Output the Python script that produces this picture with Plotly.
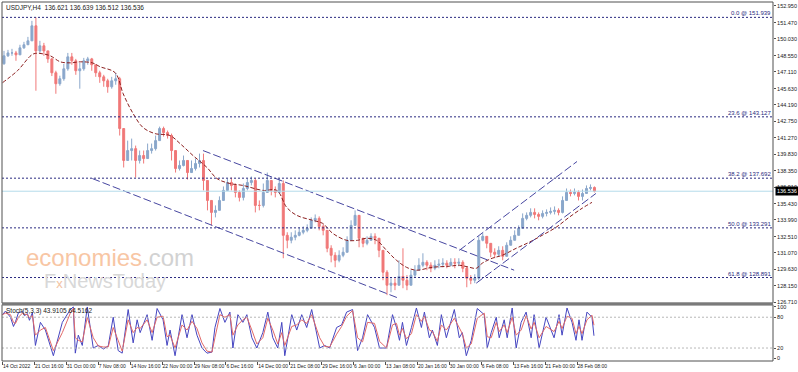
import plotly.graph_objects as go

# ---------------- data (USDJPY H4, sampled every 4 bars) ----------------
first_open = 147.83
closes = [
    148.53, 148.79, 148.79, 148.62, 149.24, 149.51, 149.86, 151.19, 148.97, 149.42,
    148.97, 148.26, 147.03, 146.06, 146.50, 147.38, 148.44, 148.09, 147.21, 147.38,
    148.09, 148.26, 147.74, 147.03, 146.67, 146.32, 145.79, 146.32, 146.50, 142.09,
    139.26, 140.14, 140.31, 139.26, 139.70, 139.43, 140.14, 140.31, 141.02, 142.09,
    141.73, 141.47, 140.14, 138.55, 138.82, 139.26, 138.19, 138.55, 138.99, 139.26,
    137.49, 135.72, 134.66, 134.84, 135.72, 136.61, 137.31, 137.05, 136.43, 135.99,
    136.78, 137.31, 137.49, 135.28, 135.28, 136.43, 137.49, 136.61, 136.43, 137.22,
    132.63, 132.19, 132.46, 132.63, 132.90, 133.07, 133.25, 133.96, 134.13, 133.42,
    133.07, 131.48, 130.86, 130.42, 130.86, 131.13, 132.19, 133.51, 134.40, 132.37,
    131.92, 132.19, 132.54, 132.37, 131.30, 129.36, 128.21, 128.39, 128.21, 128.99,
    128.65, 128.21, 129.10, 129.54, 129.98, 130.24, 129.98, 129.71, 129.98, 130.07,
    130.16, 129.98, 130.24, 130.16, 130.24, 129.71, 128.83, 128.65, 128.83, 132.19,
    132.54, 131.92, 131.13, 130.95, 131.30, 130.77, 131.75, 132.19, 132.63, 133.25,
    134.13, 134.40, 134.66, 134.48, 134.31, 134.57, 134.66, 134.75, 134.84, 134.66,
    135.72, 136.43, 136.34, 136.43, 136.08, 136.34, 136.78, 136.87, 136.536,
]
highs = [
    148.97, 149.06, 149.15, 148.97, 149.51, 149.77, 150.21, 151.63, 151.94, 149.86,
    149.68, 148.97, 148.35, 147.21, 146.77, 147.82, 148.79, 148.79, 148.26, 147.91,
    148.35, 148.44, 148.35, 147.74, 147.21, 146.85, 146.50, 146.67, 147.03, 146.67,
    141.91, 141.02, 141.20, 140.58, 140.14, 140.14, 140.76, 140.76, 141.47, 142.26,
    142.26, 141.91, 141.64, 139.70, 139.26, 139.70, 139.08, 139.26, 139.43, 139.87,
    139.87, 137.49, 135.72, 135.28, 136.08, 136.96, 137.66, 137.75, 137.22, 136.61,
    137.22, 137.66, 137.84, 137.66, 135.72, 137.22, 138.19, 137.49, 136.96, 137.66,
    137.49, 132.90, 132.90, 133.07, 133.34, 133.42, 133.60, 134.22, 134.48, 134.31,
    133.60, 133.07, 131.75, 131.13, 131.30, 131.57, 132.54, 133.96, 134.84, 134.40,
    132.37, 132.54, 132.81, 132.81, 132.19, 131.13, 129.54, 128.83, 128.83, 130.42,
    131.48, 129.10, 129.54, 129.98, 130.60, 131.04, 130.42, 130.24, 130.42, 130.51,
    130.60, 130.42, 130.60, 130.60, 130.60, 130.42, 129.89, 129.10, 129.18, 132.54,
    132.81, 132.54, 131.92, 131.48, 131.66, 131.66, 132.01, 132.54, 133.07, 133.51,
    134.57, 134.66, 135.02, 135.02, 134.66, 134.84, 134.93, 135.10, 135.19, 135.02,
    136.08, 136.78, 136.69, 136.78, 136.61, 136.69, 137.05, 137.14, 136.96,
]
lows = [
    147.74, 148.44, 148.53, 148.09, 148.97, 149.15, 149.60, 150.30, 145.44, 148.79,
    148.53, 147.91, 146.74, 145.17, 145.88, 146.32, 147.21, 147.74, 146.85, 145.62,
    147.21, 147.74, 147.21, 146.67, 146.14, 145.79, 145.26, 145.62, 145.97, 141.47,
    138.64, 139.26, 139.26, 137.75, 138.99, 138.99, 139.70, 139.87, 140.14, 141.02,
    141.38, 141.20, 139.26, 138.19, 138.37, 138.73, 137.57, 138.19, 138.37, 138.64,
    136.61, 134.84, 133.51, 134.22, 134.84, 135.72, 136.61, 136.61, 135.99, 135.63,
    135.72, 136.61, 137.05, 134.66, 134.84, 135.10, 136.61, 136.17, 135.99, 136.61,
    130.60, 131.48, 131.92, 132.19, 132.54, 132.72, 132.90, 133.42, 133.78, 133.07,
    132.63, 131.13, 130.24, 129.80, 130.24, 130.69, 131.30, 132.19, 133.78, 131.57,
    131.57, 131.75, 132.19, 131.84, 130.69, 128.65, 127.33, 127.59, 127.77, 128.39,
    127.94, 127.77, 128.48, 128.92, 129.71, 129.80, 129.54, 129.36, 129.54, 129.71,
    129.80, 129.71, 129.89, 129.71, 129.89, 129.36, 128.03, 128.30, 128.39, 128.65,
    132.10, 131.48, 130.69, 130.60, 130.77, 130.42, 131.30, 131.75, 132.19, 132.72,
    133.25, 133.96, 134.22, 134.13, 133.96, 134.13, 134.31, 134.48, 134.48, 134.40,
    134.57, 135.90, 136.08, 136.17, 135.72, 135.72, 136.43, 136.61, 136.43,
]
bars_per_candle = 4

# moving average
ma_bars = [0, 15, 31, 41, 48, 58, 68, 78, 90, 98, 113, 121, 131, 141, 153, 168, 178, 191, 205, 215,
           228, 241, 261, 275, 285, 295, 311, 321, 331, 345, 356, 365, 375, 385, 395, 405, 415, 431, 448, 458,
           468, 475, 481, 491, 501, 515, 528, 541, 555, 568, 581, 591]
ma_vals = [146.15, 147.21, 148.70, 148.70, 148.53, 148.00, 147.91, 148.00, 147.91, 147.56,
           147.03, 145.17, 143.41, 142.17, 141.64, 141.47, 140.76, 139.70, 138.64, 137.66,
           137.22, 137.05, 136.61, 136.61, 135.10, 134.40, 133.96, 133.69, 132.81, 132.19,
           132.19, 132.37, 132.19, 131.30, 130.42, 129.80, 129.54, 129.80, 129.89, 129.98,
           129.80, 129.71, 130.16, 130.60, 130.86, 131.48, 132.01, 132.63, 133.34, 134.22,
           135.02, 135.55]

# trend channels: (bar, price) endpoints
channels = {
    "desc_upper": ([201, 513], [140.14, 129.54]),
    "desc_lower": ([90, 398], [137.66, 127.03]),
    "asc_upper": ([458, 576], [131.30, 139.17]),
    "asc_lower": ([475, 595], [128.39, 136.34]),
}

fib_pcts = ["0.0", "23.6", "38.2", "50.0", "61.8"]
fib_levels = [151.939, 143.127, 137.692, 133.291, 128.891]
last_price = 136.536
ohlc_title = "USDJPY,H4  136.621 136.639 136.512 136.536"

price_ticks = [152.950, 151.470, 150.030, 148.550, 147.110, 145.630, 144.190, 142.750, 141.270,
               139.830, 138.350, 136.910, 135.430, 133.990, 132.510, 131.070, 129.630, 128.150, 126.710]

time_labels = ["14 Oct 2022", "21 Oct 16:00", "31 Oct 00:00", "7 Nov 08:00", "14 Nov 16:00",
               "22 Nov 00:00", "29 Nov 08:00", "6 Dec 16:00", "14 Dec 00:00", "21 Dec 08:00",
               "29 Dec 16:00", "6 Jan 00:00", "13 Jan 08:00", "20 Jan 16:00", "30 Jan 00:00",
               "6 Feb 08:00", "13 Feb 16:00", "21 Feb 00:00", "28 Feb 08:00"]
time_label_bars = [0, 32, 64, 96, 128, 160, 192, 224, 256, 288, 320, 352, 384, 416, 448, 480, 512, 544, 576]

# stochastic (5,3,3) turning points
stoch_bars = [0, 3, 8, 11, 13, 16, 20, 22, 25, 27, 30, 33, 38, 43, 51, 60, 68, 71, 73, 76,
              80, 85, 91, 96, 101, 106, 111, 116, 120, 126, 131, 135, 138, 145, 150, 155, 161, 165, 168, 173,
              180, 185, 190, 195, 200, 205, 210, 213, 218, 223, 228, 231, 236, 241, 245, 250, 255, 261, 266, 271,
              276, 280, 283, 290, 295, 300, 305, 310, 318, 323, 328, 335, 340, 345, 351, 356, 361, 366, 373, 378,
              385, 391, 395, 398, 401, 405, 410, 415, 420, 423, 428, 431, 436, 440, 445, 453, 458, 461, 465, 470,
              476, 483, 486, 490, 495, 498, 503, 506, 511, 515, 520, 525, 530, 533, 538, 545, 553, 558, 561, 566,
              571, 575, 578, 581, 586, 591, 593]
stoch_k = [85, 92, 80, 62, 71, 89, 91, 83, 87, 74, 89, 25, 70, 55, 5, 70, 95, 100, 10, 45,
           25, 100, 20, 25, 18, 24, 80, 15, 10, 95, 30, 75, 50, 85, 35, 97, 75, 25, 55, 5,
           85, 40, 85, 45, 20, 10, 12, 60, 97, 70, 90, 20, 85, 70, 85, 40, 20, 50, 90, 40,
           20, 70, 5, 85, 55, 85, 60, 95, 20, 25, 20, 60, 65, 90, 95, 15, 40, 85, 60, 20,
           20, 85, 60, 35, 70, 25, 60, 98, 60, 90, 40, 55, 25, 85, 40, 95, 40, 50, 5, 35,
           97, 85, 20, 50, 80, 40, 75, 40, 98, 20, 70, 90, 40, 85, 20, 80, 40, 85, 45, 98,
           70, 35, 75, 35, 90, 80, 43.91]
stoch_d = [85, 88, 85, 70, 68, 80, 88, 86, 85, 79, 83, 45, 55, 60, 15, 50, 88, 97, 40, 35,
           32, 80, 40, 24, 22, 22, 60, 35, 14, 75, 50, 60, 58, 75, 50, 80, 82, 42, 45, 20,
           65, 55, 72, 58, 30, 14, 12, 40, 85, 80, 85, 45, 65, 75, 80, 55, 28, 40, 78, 55,
           28, 50, 25, 62, 65, 75, 68, 85, 40, 23, 22, 47, 62, 82, 93, 40, 32, 70, 68, 33,
           20, 65, 68, 45, 58, 38, 48, 85, 72, 82, 55, 52, 33, 65, 55, 78, 58, 48, 20, 28,
           78, 88, 42, 40, 70, 52, 65, 50, 80, 45, 55, 83, 57, 70, 40, 62, 52, 72, 58, 82,
           78, 48, 62, 48, 75, 84, 64.52]
stoch_title = "Stoch(5,3,3) 43.9105 64.5162"

# ---------------- styling ----------------
W, H = 798, 372
ML, MR, MT, MB = 2, 23, 1, 11
PH = H - MT - MB                      # plot height in px
main_bottom = (361 - 303) / PH
stoch_top = (361 - 304.5) / PH
UP, DN = "#8aa7cb", "#f07878"
FONT = "Liberation Sans Narrow, Liberation Sans, Arial, sans-serif"
AX_COL = "#505050"
TXT = "#202020"

n = len(closes)
candle_x = [bars_per_candle * k + 1.5 for k in range(n)]
opens = [first_open] + closes[:-1]
hi = [max(h, o, c) for h, o, c in zip(highs, opens, closes)]
lo = [min(l, o, c) for l, o, c in zip(lows, opens, closes)]

fig = go.Figure()

fig.add_trace(go.Candlestick(
    x=candle_x, open=opens, high=hi, low=lo, close=closes,
    increasing=dict(line=dict(color=UP, width=1), fillcolor=UP),
    decreasing=dict(line=dict(color=DN, width=1), fillcolor=DN),
    whiskerwidth=0, xaxis="x", yaxis="y", showlegend=False, hoverinfo="skip"))

fig.add_trace(go.Scatter(x=ma_bars, y=ma_vals, mode="lines",
                         line=dict(color="#8b1f1f", width=1, dash="4px,2px", shape="spline"),
                         xaxis="x", yaxis="y", showlegend=False, hoverinfo="skip"))

for name, (bx, py) in channels.items():
    fig.add_trace(go.Scatter(x=bx, y=py, mode="lines", line=dict(color="#4646a0", width=1, dash="8px,3px"),
                             xaxis="x", yaxis="y", showlegend=False, hoverinfo="skip"))

fig.add_trace(go.Scatter(x=stoch_bars, y=stoch_k, mode="lines", line=dict(color="#4545c0", width=1),
                         xaxis="x2", yaxis="y2", showlegend=False, hoverinfo="skip"))
fig.add_trace(go.Scatter(x=stoch_bars, y=stoch_d, mode="lines", line=dict(color="#e06868", width=1),
                         xaxis="x2", yaxis="y2", showlegend=False, hoverinfo="skip"))

shapes = []
for lvl in fib_levels:
    shapes.append(dict(type="line", xref="paper", x0=0, x1=1, yref="y", y0=lvl, y1=lvl,
                       line=dict(color="#2a2a80", width=1, dash="2px,2px")))
shapes.append(dict(type="line", xref="paper", x0=0, x1=1, yref="y", y0=last_price, y1=last_price,
                   line=dict(color="#b4dcea", width=1)))
for lv in (80, 20):
    shapes.append(dict(type="line", xref="paper", x0=0, x1=1, yref="y2", y0=lv, y1=lv,
                       line=dict(color="#b8b8b8", width=1, dash="2px,2px")))
# frames
shapes.append(dict(type="rect", xref="paper", yref="paper", x0=0, x1=1, y0=main_bottom, y1=1,
                   line=dict(color=AX_COL, width=1)))
shapes.append(dict(type="rect", xref="paper", yref="paper", x0=0, x1=1, y0=0, y1=stoch_top,
                   line=dict(color=AX_COL, width=1)))
shapes.append(dict(type="line", xref="paper", yref="paper", x0=0, x1=1,
                   y0=(main_bottom + stoch_top) / 2, y1=(main_bottom + stoch_top) / 2,
                   line=dict(color="#7a7a7a", width=3)))

ann = []
ann.append(dict(xref="paper", yref="paper", x=0.002, y=1, xanchor="left", yanchor="top", showarrow=False,
                text=ohlc_title, font=dict(family=FONT, size=6.5, color=TXT)))
ann.append(dict(xref="paper", yref="paper", x=0.002, y=stoch_top, xanchor="left", yanchor="top", showarrow=False,
                text=stoch_title, font=dict(family=FONT, size=6.5, color=TXT)))
for pct, lvl in zip(fib_pcts, fib_levels):
    ann.append(dict(xref="paper", yref="y", x=0.9985, y=lvl, xanchor="right", yanchor="bottom", showarrow=False,
                    text=f"{pct} @ {lvl:.3f}", font=dict(family=FONT, size=6, color="#2a2a80"),
                    borderpad=0))
ann.append(dict(xref="paper", yref="y", x=1.002, y=last_price, xanchor="left", yanchor="middle", showarrow=False,
                text=f"{last_price:.3f}", font=dict(family=FONT, size=5.5, color="white"),
                bgcolor="black", borderpad=1))
ann.append(dict(xref="paper", yref="paper", x=(24 - ML) / (W - ML - MR), y=(361 - 257) / PH,
                xanchor="left", yanchor="middle", showarrow=False,
                text="<span style='color:#f8c6a4'>economies</span><span style='color:#d2d2d2'>.com</span>",
                font=dict(family="Liberation Sans, Arial, sans-serif", size=24)))
ann.append(dict(xref="paper", yref="paper", x=(42 - ML) / (W - ML - MR), y=(361 - 281) / PH,
                xanchor="left", yanchor="middle", showarrow=False,
                text="<span style='color:#d8d8d8'>F</span><span style='color:#f2c2a2;font-size:13px'>x</span><span style='color:#d8d8d8'>NewsToday</span>",
                font=dict(family="Liberation Sans, Arial, sans-serif", size=20)))

axfont = dict(family=FONT, size=5.5, color=TXT)
xfont = dict(family=FONT, size=5, color=TXT)
fig.update_layout(
    width=W, height=H, margin=dict(l=ML, r=MR, t=MT, b=MB),
    paper_bgcolor="white", plot_bgcolor="white",
    xaxis=dict(domain=[0, 1], anchor="y", range=[-0.5, 772.5], showticklabels=False, showgrid=False,
               zeroline=False, rangeslider=dict(visible=False), fixedrange=True),
    xaxis2=dict(domain=[0, 1], anchor="y2", range=[-0.5, 772.5], showgrid=False, zeroline=False,
                tickmode="array", tickvals=time_label_bars, ticktext=time_labels, tickangle=0,
                ticks="outside", ticklen=3, tickcolor=AX_COL, ticklabelposition="outside right",
                tickfont=xfont, showline=False),
    yaxis=dict(domain=[main_bottom, 1], anchor="x", side="right", range=[126.62, 153.30],
               tickmode="array", tickvals=price_ticks, ticktext=[f"{v:.3f}" for v in price_ticks],
               ticks="outside", ticklen=2, tickcolor=AX_COL, tickfont=axfont, showgrid=False,
               zeroline=False, showline=False),
    yaxis2=dict(domain=[0, stoch_top], anchor="x2", side="right", range=[-5.3, 104.5],
                tickmode="array", tickvals=[0, 20, 80, 100], ticktext=["0", "20", "80", "100"],
                ticks="outside", ticklen=2, tickcolor=AX_COL, tickfont=axfont, showgrid=False,
                zeroline=False, showline=False),
    shapes=shapes, annotations=ann,
)

fig.write_html("out.html", config={"displayModeBar": False, "staticPlot": True},
               post_script="document.body.style.margin='0px';document.body.style.overflow='hidden';")
